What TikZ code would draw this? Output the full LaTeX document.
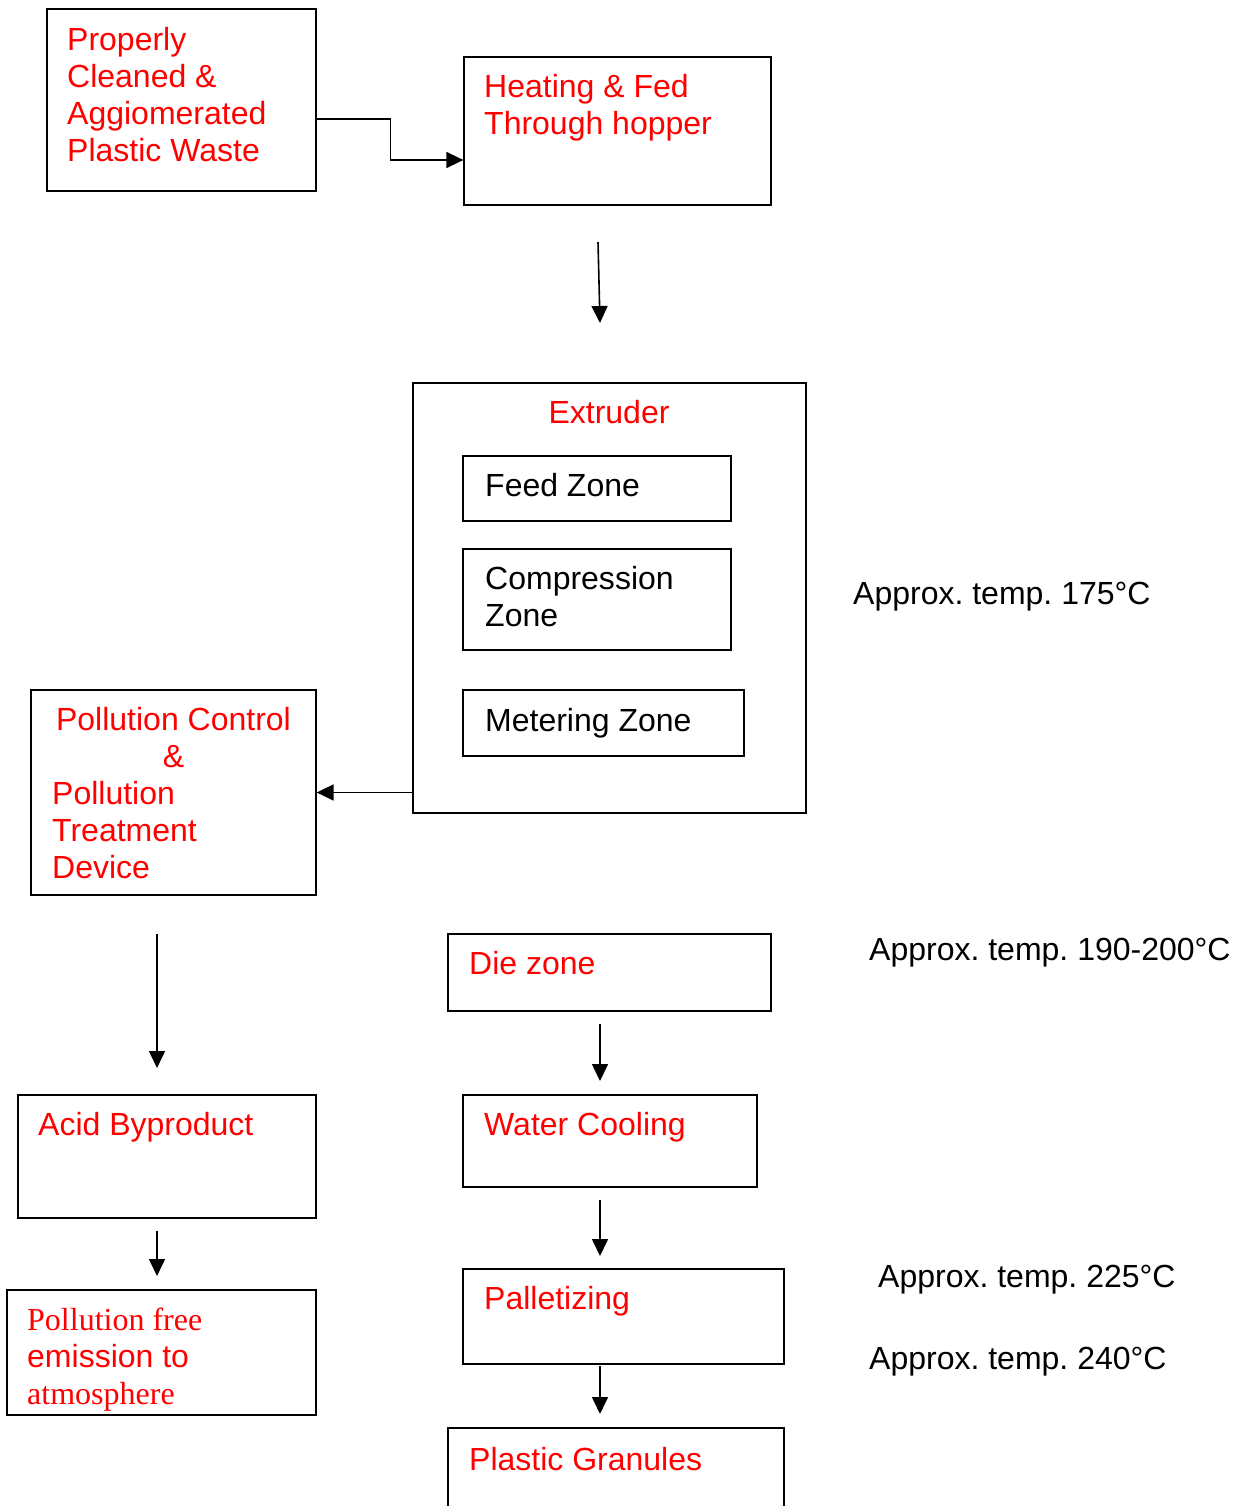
\documentclass[tikz,border=0pt]{standalone}
\usepackage{fontspec}
\setmainfont{Liberation Sans}
\newfontfamily\seriffont{Liberation Serif}
\usetikzlibrary{arrows.meta}
\frenchspacing
\tikzset{
  flowpic/.style={x=1pt,y=-1pt},
  stepbox/.style={draw,inner sep=0,line width=1.3pt},
  redtxt/.style={text=red,inner sep=0,align=left,anchor=north west,font=\fontsize{32}{37}\selectfont},
  temptxt/.style={inner sep=0,align=left,anchor=north west,font=\fontsize{32}{37}\selectfont},
  flow/.style={-{Triangle[length=17pt,width=16pt]},line width=1.6pt},
}

\begin{document}
\begin{tikzpicture}[flowpic]
    \clip (0,0) rectangle (1240,1506);
    % boxes
    \node[stepbox,minimum width=269pt,minimum height=182pt] (waste)  at (181.5,100)  {};
    \node[stepbox,minimum width=307pt,minimum height=148pt] (heat)   at (617.5,131)  {};
    \node[stepbox,minimum width=393pt,minimum height=430pt] (ext)    at (609.5,598)  {};
    \node[stepbox,minimum width=268pt,minimum height=65pt]  (feed)   at (597,488.5)  {};
    \node[stepbox,minimum width=268pt,minimum height=101pt] (comp)   at (597,599.5)  {};
    \node[stepbox,minimum width=281pt,minimum height=66pt]  (meter)  at (603.5,723)  {};
    \node[stepbox,minimum width=285pt,minimum height=205pt] (poll)   at (173.5,792.5) {};
    \node[stepbox,minimum width=323pt,minimum height=77pt]  (die)    at (609.5,972.5) {};
    \node[stepbox,minimum width=298pt,minimum height=123pt] (acid)   at (167,1156.5) {};
    \node[stepbox,minimum width=294pt,minimum height=92pt]  (water)  at (610,1141)   {};
    \node[stepbox,minimum width=309pt,minimum height=125pt] (free)   at (161.5,1352.5) {};
    \node[stepbox,minimum width=321pt,minimum height=95pt]  (pallet) at (623.5,1316.5) {};
    \node[stepbox,minimum width=336pt,minimum height=132pt] (gran)   at (616,1494)   {};
    % texts
    \node[redtxt] (wastetxt) at (67,27) {Properly\\Cleaned \&\\Aggiomerated\\Plastic Waste};
    \node[redtxt] (heattxt) at (484,74) {Heating \& Fed\\Through hopper};
    \node[redtxt,anchor=north] (exttxt) at (609,400) {Extruder};
    \node[temptxt] (feedtxt) at (485,473) {Feed Zone};
    \node[temptxt] (comptxt) at (485,566) {Compression\\Zone};
    \node[temptxt] (metertxt) at (485,708) {Metering Zone};
    \node[temptxt] (t175) at (853,582) {Approx. temp. 175°C};
    \node[redtxt,anchor=north,align=center] (polltxta) at (173.5,707) {Pollution Control\\\&};
    \node[redtxt] (polltxtb) at (52,781) {Pollution\\Treatment\\Device};
    \node[redtxt] (dietxt) at (469,951) {Die zone};
    \node[temptxt] (t190) at (869,938) {Approx. temp. 190-200°C};
    \node[redtxt] (acidtxt) at (38,1112) {Acid Byproduct};
    \node[redtxt] (watertxt) at (484,1112) {Water Cooling};
    \node[redtxt] (freetxt) at (27,1308) {{\seriffont Pollution free}\\emission to\\{\seriffont atmosphere}};
    \node[redtxt] (pallettxt) at (484,1286) {Palletizing};
    \node[temptxt] (t225) at (878,1265) {Approx. temp. 225°C};
    \node[temptxt] (t240) at (869,1347) {Approx. temp. 240°C};
    \node[redtxt] (grantxt) at (469,1447) {Plastic Granules};
    % free arrow ends
    \coordinate (hopout) at (598,242);
    \coordinate (extin)  at (600,323);
    \coordinate (pollout) at (157,934);
    \coordinate (acidin)  at (157,1068);
    \coordinate (dieout)  at (600,1024);
    \coordinate (waterin) at (600,1081);
    \coordinate (acidout) at (157,1231);
    \coordinate (freein)  at (157,1276);
    \coordinate (waterout) at (600,1200);
    \coordinate (palletin) at (600,1256);
    \coordinate (palletout) at (600,1366);
    \coordinate (granin)    at (600,1414);
    % connectors
    \draw[flow] ([yshift=-19pt]waste.east) -- ++(74,0) |- ([yshift=-29pt]heat.west);
    \draw[flow] (hopout) -- (extin);
    \draw[flow] (ext.west |- poll.east) -- (poll.east);
    \draw[flow] (pollout) -- (acidin);
    \draw[flow] (dieout) -- (waterin);
    \draw[flow] (acidout) -- (freein);
    \draw[flow] (waterout) -- (palletin);
    \draw[flow] (palletout) -- (granin);
\end{tikzpicture}
\end{document}
